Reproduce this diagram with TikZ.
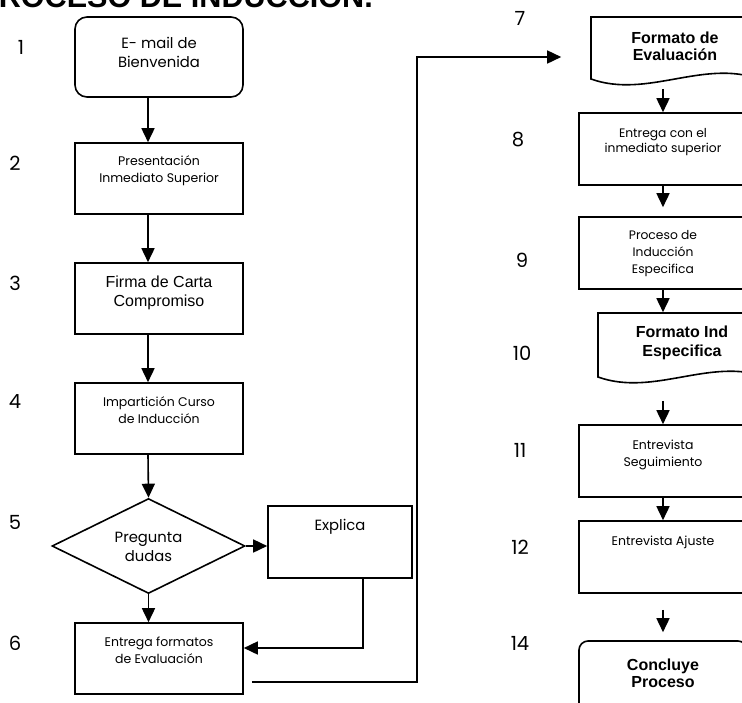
\documentclass[tikz,border=0pt]{standalone}
\usepackage{fontspec}
\setmainfont{Liberation Sans}
\newfontfamily\cg{Poppins}
\usetikzlibrary{arrows.meta,shapes.geometric}
\begin{document}
\begin{tikzpicture}[x=1pt,y=-1pt,
  line width=1.6pt,
  box/.style={draw,line width=1.6pt,minimum width=168pt,minimum height=71pt,inner sep=0pt},
  rbox/.style={box,rounded corners=12pt},
  anc/.style={inner sep=0pt,minimum width=168pt},
  txt/.style={align=center,font=\cg\fontsize{12.5}{16.5}\selectfont,inner sep=0pt},
  btxt/.style={align=center,font=\cg\fontsize{14.8}{19}\selectfont,inner sep=0pt},
  atxt/.style={align=center,font=\fontsize{16}{19}\selectfont,inner sep=0pt},
  bold/.style={align=center,font=\bfseries\fontsize{16}{17}\selectfont,inner sep=0pt},
  num/.style={font=\cg\fontsize{19.5}{22}\selectfont,inner sep=0pt},
  arr/.style={-{Triangle[width=13pt,length=14pt]},line width=1.6pt}]
\useasboundingbox (0,0) rectangle (742,702);

% title
\node[anchor=base west,font=\bfseries\fontsize{30.6}{32}\selectfont,inner sep=0pt] (title) at (-22.4,7) {PROCESO DE INDUCCION.};

% column coordinates
\coordinate (cl) at (148,0);
\coordinate (cr) at (663,0);

% left column
\node[rbox,minimum height=80pt] (b1) at (159,57) {};
\node[btxt] (t1) at (159,52.5) {E- mail de\\Bienvenida};
\node[box] (b2) at (159,178.5) {};
\node[txt] (t2) at (159,170.5) {Presentación\\Inmediato Superior};
\node[box] (b3) at (159,298.5) {};
\node[atxt] (t3) at (159,292.5) {Firma de Carta\\Compromiso};
\node[box] (b4) at (159,418.5) {};
\node[txt] (t4) at (159,410) {Impartición Curso\\de Inducción};
\node[diamond,draw,line width=1.6pt,minimum width=193pt,minimum height=95pt,inner sep=0pt] (d5) at (148.5,546) {};
\node[btxt] (t5) at (148.5,547) {Pregunta\\dudas};
\node[box,minimum width=144pt,minimum height=72pt] (ex) at (340,542) {};
\node[btxt] (tex) at (340,527) {Explica};
\node[box] (b6) at (159,658.5) {};
\node[txt] (t6) at (159,650.5) {Entrega formatos\\de Evaluación};

% right column
\node[anc,minimum height=62pt] (b7) at (675,48) {};
\draw[line width=1.6pt] (591,79) -- (591,17) -- (759,17) -- (759,79)
  .. controls (703,59) and (647,99) .. (591,79) -- cycle;
\node[bold] (t7) at (675,46.5) {Formato de\\Evaluación};
\node[box,minimum height=72pt] (b8) at (663,149) {};
\node[txt,font=\cg\fontsize{12.3}{15}\selectfont] (t8) at (663,142.5) {Entrega con el\\inmediato superior};
\node[box,minimum height=72pt] (b9) at (663,253) {};
\node[txt,font=\cg\fontsize{12.3}{17}\selectfont] (t9) at (663,254) {Proceso de\\Inducción\\Especifica};
\node[anc,minimum height=64pt] (b10) at (682,345) {};
\draw[line width=1.6pt] (598,377) -- (598,313) -- (766,313) -- (766,377)
  .. controls (710,357) and (654,397) .. (598,377) -- cycle;
\node[bold,font=\bfseries\fontsize{16}{19}\selectfont] (t10) at (682,342.5) {Formato Ind\\Especifica};
\node[box,minimum height=72pt] (b11) at (663,461) {};
\node[txt] (t11) at (663,455) {Entrevista\\Seguimiento};
\node[box,minimum height=72pt] (b12) at (663,557) {};
\node[txt] (t12) at (663,542) {Entrevista Ajuste};
\node[box,rounded corners=9pt,minimum height=80pt] (b14) at (663,681) {};
\node[bold] (t14) at (663,673.5) {Concluye\\Proceso};

% numbers
\node[num] (n1) at (21,47) {1};
\node[num] (n2) at (15,163) {2};
\node[num] (n3) at (15,283) {3};
\node[num] (n4) at (15,402) {4};
\node[num] (n5) at (15,522) {5};
\node[num] (n6) at (15,643) {6};
\node[num] (n7) at (520,18) {7};
\node[num] (n8) at (518,140) {8};
\node[num] (n9) at (522,260) {9};
\node[num] (n10) at (522,353) {10};
\node[num] (n11) at (520,450) {11};
\node[num] (n12) at (520,547) {12};
\node[num] (n14) at (520,643) {14};

% left connectors
\draw[arr] (b1.south -| cl) -- (b2.north -| cl);
\draw[arr] (b2.south -| cl) -- (b3.north -| cl);
\draw[arr] (b3.south -| cl) -- (b4.north -| cl);
\draw[arr] (b4.south -| cl) -- (d5.north);
\draw[arr] (d5.south) -- (b6.north -| d5.south);
\draw[arr] (d5.east) -- (d5.east -| ex.west);
\coordinate (e1) at (363,648);
\draw[arr] (ex.south -| e1) -- (e1) -- (e1 -| b6.east);
\coordinate (c1) at (417,682);
\coordinate (c2) at (417,57);
\draw[arr,shorten <=8pt,shorten >=29pt] (b6.east |- c1) -- (c1) -- (c2) -- (c2 -| b7.west);

% right connectors
\draw[arr,shorten <=9pt] (b7.south -| cr) -- (b8.north -| cr);
\draw[arr,shorten >=9pt] (b8.south -| cr) -- (b9.north -| cr);
\draw[arr] (b9.south -| cr) -- (b10.north -| cr);
\draw[arr,shorten <=23pt] (b10.south -| cr) -- (b11.north -| cr);
\draw[arr] (b11.south -| cr) -- (b12.north -| cr);
\draw[arr,shorten <=16pt,shorten >=8pt] (b12.south -| cr) -- (b14.north -| cr);
\end{tikzpicture}
\end{document}
